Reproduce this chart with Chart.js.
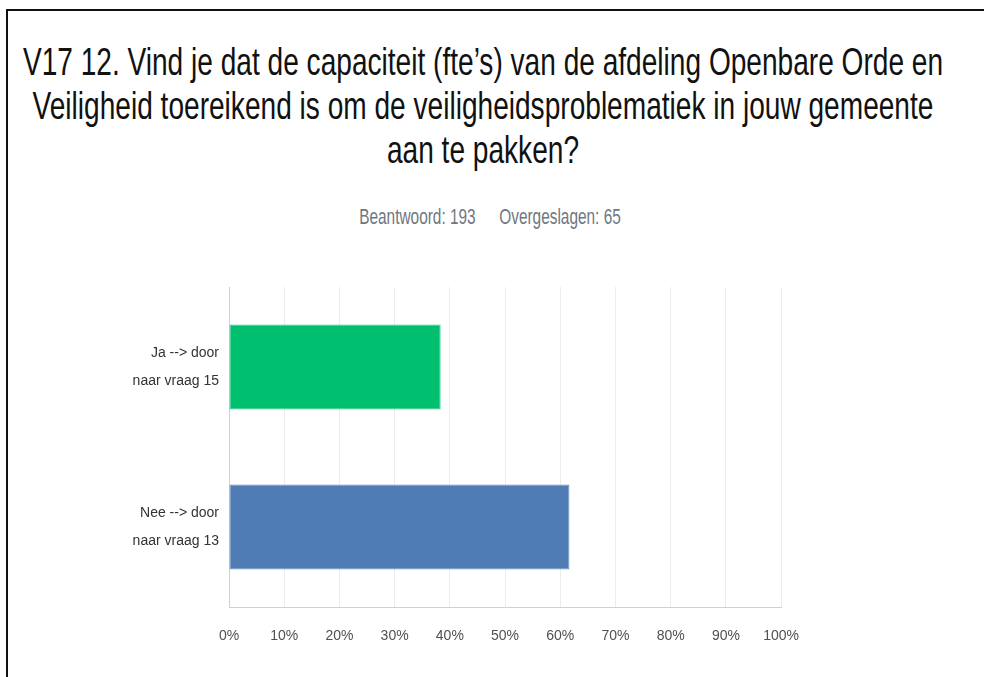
<!DOCTYPE html>
<html>
<head>
<meta charset="utf-8">
<script src="https://cdn.jsdelivr.net/npm/chart.js@4"></script>
<style>
    body { margin: 0; width: 984px; height: 677px; overflow: hidden; background: #fff; position: relative; }
    .kader { position: absolute; left: 6px; top: 9px; width: 990px; height: 700px; border-top: 2px solid #111; border-left: 2px solid #111; }
    .titel { position: absolute; left: -67px; top: 0; width: 1100px; padding-top: 32px; text-align: center; white-space: nowrap;
             font-family: "Liberation Sans", sans-serif; font-size: 31px; line-height: 35.2px;
             color: #111; transform: scale(0.906, 1.25); transform-origin: top center; }
    .sub { position: absolute; left: 0; top: 203px; width: 980px; text-align: center; white-space: nowrap;
           font-family: "Liberation Sans", sans-serif; font-size: 17px; line-height: 21px;
           color: #707780; transform: scale(0.906, 1.3); transform-origin: top center; }
    .sub span + span { margin-left: 26px; }
    .grafiek { position: absolute; left: 0; top: 249px; width: 820px; height: 428px; }
</style>
</head>
<body>
<div class="kader"></div>
<div class="titel">V17 12. Vind je dat de capaciteit (fte’s) van de afdeling Openbare Orde en<br>Veiligheid toereikend is om de veiligheidsproblematiek in jouw gemeente<br>aan te pakken?</div>
<div class="sub"><span>Beantwoord: 193</span><span>Overgeslagen: 65</span></div>
<div class="grafiek"><canvas id="grafiek"></canvas></div>

<script>
// ==========================================
// DATA
// ==========================================
const categorieen = [["Ja --> door", "naar vraag 15"], ["Nee --> door", "naar vraag 13"]];
const percentages = [38.34, 61.66];
const kleuren = ["#00BF6F", "#507CB6"];
const randKleuren = ["#33cc8c", "#6a90c2"];
const tickLabels = ["0%", "10%", "20%", "30%", "40%", "50%", "60%", "70%", "80%", "90%", "100%"];

const lettertype = "'Liberation Sans', sans-serif";

new Chart(document.getElementById("grafiek"), {
    type: "bar",
    data: {
        labels: categorieen,
        datasets: [{
            data: percentages,
            backgroundColor: kleuren,
            borderColor: randKleuren,
            borderWidth: 1,
            borderSkipped: false,
            categoryPercentage: 1,
            barPercentage: 0.53
        }]
    },
    options: {
        indexAxis: "y",
        responsive: true,
        maintainAspectRatio: false,
        animation: false,
        layout: { padding: 0 },
        plugins: {
            legend: { display: false },
            tooltip: { enabled: false }
        },
        scales: {
            x: {
                min: 0,
                max: 100,
                ticks: {
                    stepSize: 10,
                    padding: 21,
                    color: "#505050",
                    font: { family: lettertype, size: 14 },
                    callback: function (waarde, i) { return tickLabels[i]; }
                },
                grid: { color: "#ececec", drawTicks: false },
                border: { color: "#d0d0d0" },
                afterFit: function (schaal) { schaal.height = 70; }
            },
            y: {
                ticks: {
                    padding: 10,
                    color: "#333",
                    font: { family: lettertype, size: 14, lineHeight: 2 }
                },
                grid: { display: false, drawTicks: false },
                border: { color: "#d0d0d0" },
                afterFit: function (schaal) { schaal.width = 229; }
            }
        }
    }
});
</script>
</body>
</html>
